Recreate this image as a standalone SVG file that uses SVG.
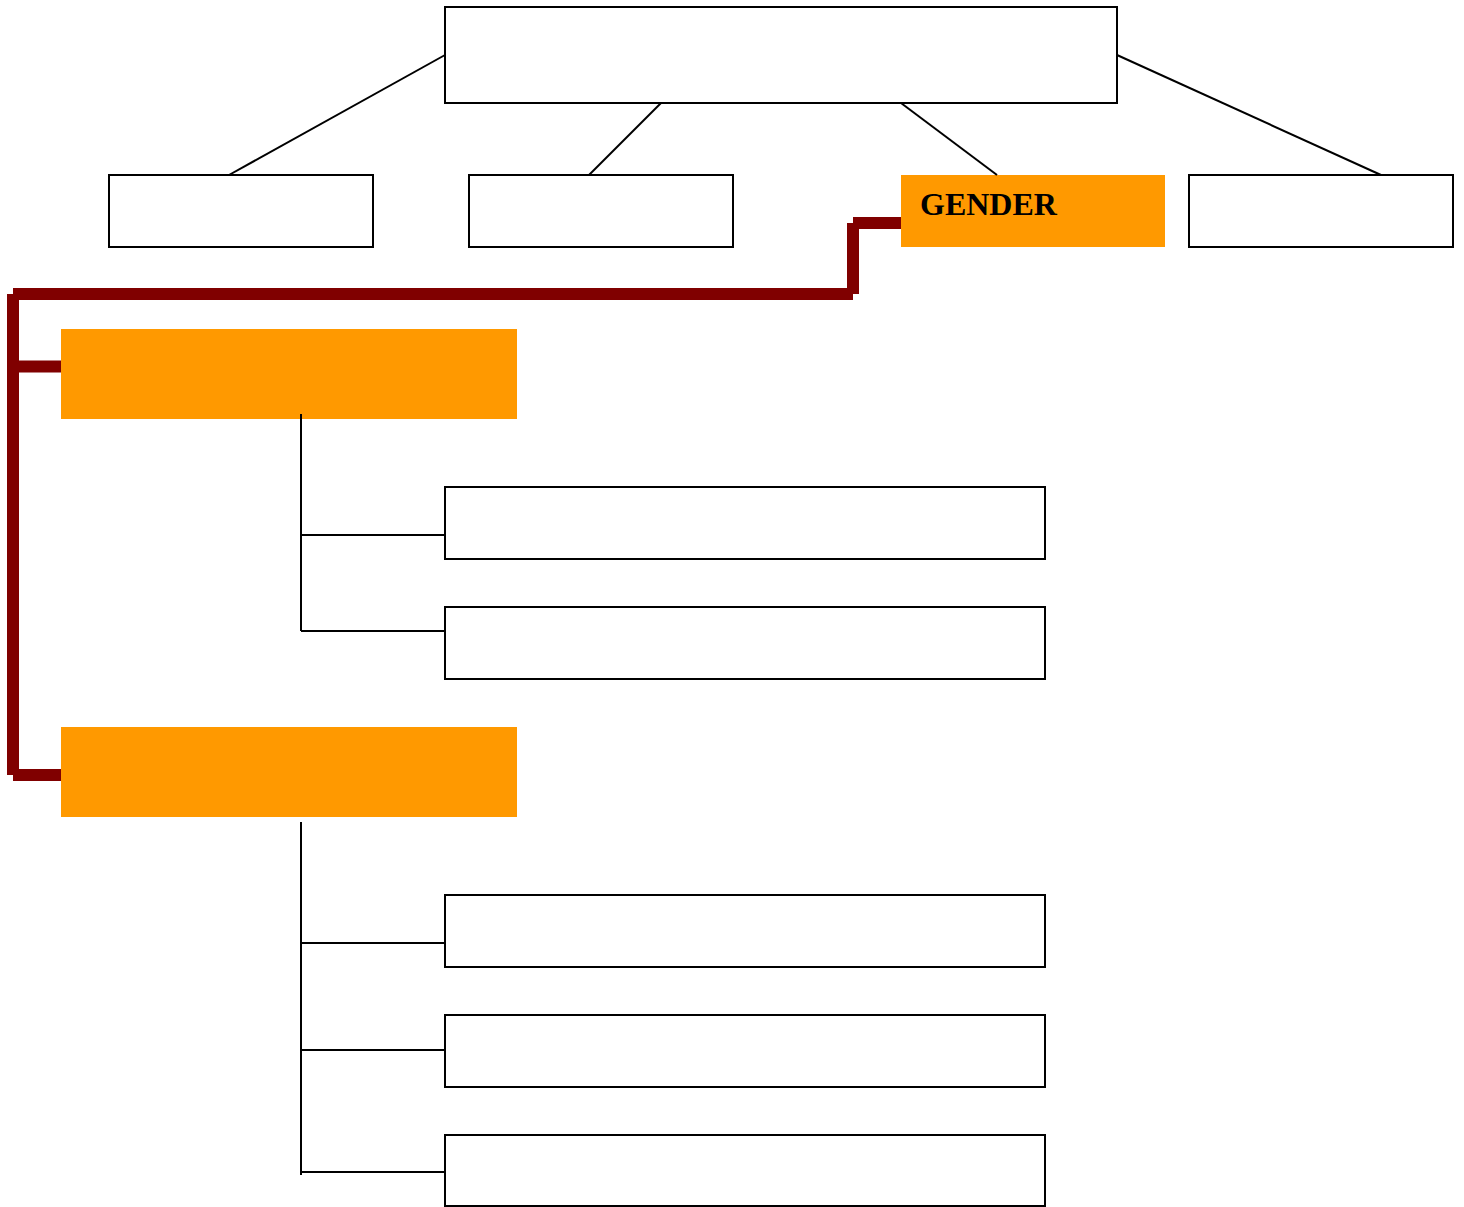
<svg xmlns="http://www.w3.org/2000/svg" width="1464" height="1207" viewBox="0 0 1464 1207">
<style>
.box{fill:#fff;stroke:#000;stroke-width:2}
.hl{fill:#FF9900;stroke:none}
.ln{stroke:#000;stroke-width:2;fill:none}
.mr{stroke:#800000;stroke-width:12;fill:none;stroke-linecap:butt}
.t{font-family:"Liberation Serif","Times New Roman",serif;font-weight:bold;font-size:32px;fill:#000}
</style>
<rect width="1464" height="1207" fill="#fff"/>
<g id="top"><rect class="box" x="445" y="7" width="672" height="96"/></g>
<g id="n1"><rect class="box" x="109" y="175" width="264" height="72"/></g>
<g id="n2"><rect class="box" x="469" y="175" width="264" height="72"/></g>
<g id="gender"><rect class="hl" x="901" y="175" width="264" height="72"/><text class="t" x="920" y="215">GENDER</text></g>
<g id="n4"><rect class="box" x="1189" y="175" width="264" height="72"/></g>
<g id="o1"><rect class="hl" x="61" y="329" width="456" height="90"/></g>
<g id="w1"><rect class="box" x="445" y="487" width="600" height="72"/></g>
<g id="w2"><rect class="box" x="445" y="607" width="600" height="72"/></g>
<g id="o2"><rect class="hl" x="61" y="727" width="456" height="90"/></g>
<g id="w3"><rect class="box" x="445" y="895" width="600" height="72"/></g>
<g id="w4"><rect class="box" x="445" y="1015" width="600" height="72"/></g>
<g id="w5"><rect class="box" x="445" y="1135" width="600" height="71"/></g>
<g id="connectors">
<line class="ln" x1="445" y1="55" x2="229" y2="175"/>
<line class="ln" x1="661" y1="103" x2="589" y2="175"/>
<line class="ln" x1="901" y1="103" x2="997" y2="175"/>
<line class="ln" x1="1117" y1="55" x2="1381" y2="175"/>
<line class="ln" x1="301" y1="414" x2="301" y2="631"/>
<line class="ln" x1="301" y1="535" x2="445" y2="535"/>
<line class="ln" x1="301" y1="631" x2="445" y2="631"/>
<line class="ln" x1="301" y1="822" x2="301" y2="1175"/>
<line class="ln" x1="301" y1="943" x2="445" y2="943"/>
<line class="ln" x1="301" y1="1050" x2="445" y2="1050"/>
<line class="ln" x1="301" y1="1172" x2="445" y2="1172"/>
<line class="mr" x1="901" y1="223" x2="853" y2="223"/>
<line class="mr" x1="853" y1="223" x2="853" y2="294"/>
<line class="mr" x1="853" y1="294" x2="13" y2="294"/>
<line class="mr" x1="13" y1="294" x2="13" y2="775"/>
<line class="mr" x1="13" y1="366.5" x2="61" y2="366.5"/>
<line class="mr" x1="13" y1="775" x2="61" y2="775"/>
</g>
</svg>
